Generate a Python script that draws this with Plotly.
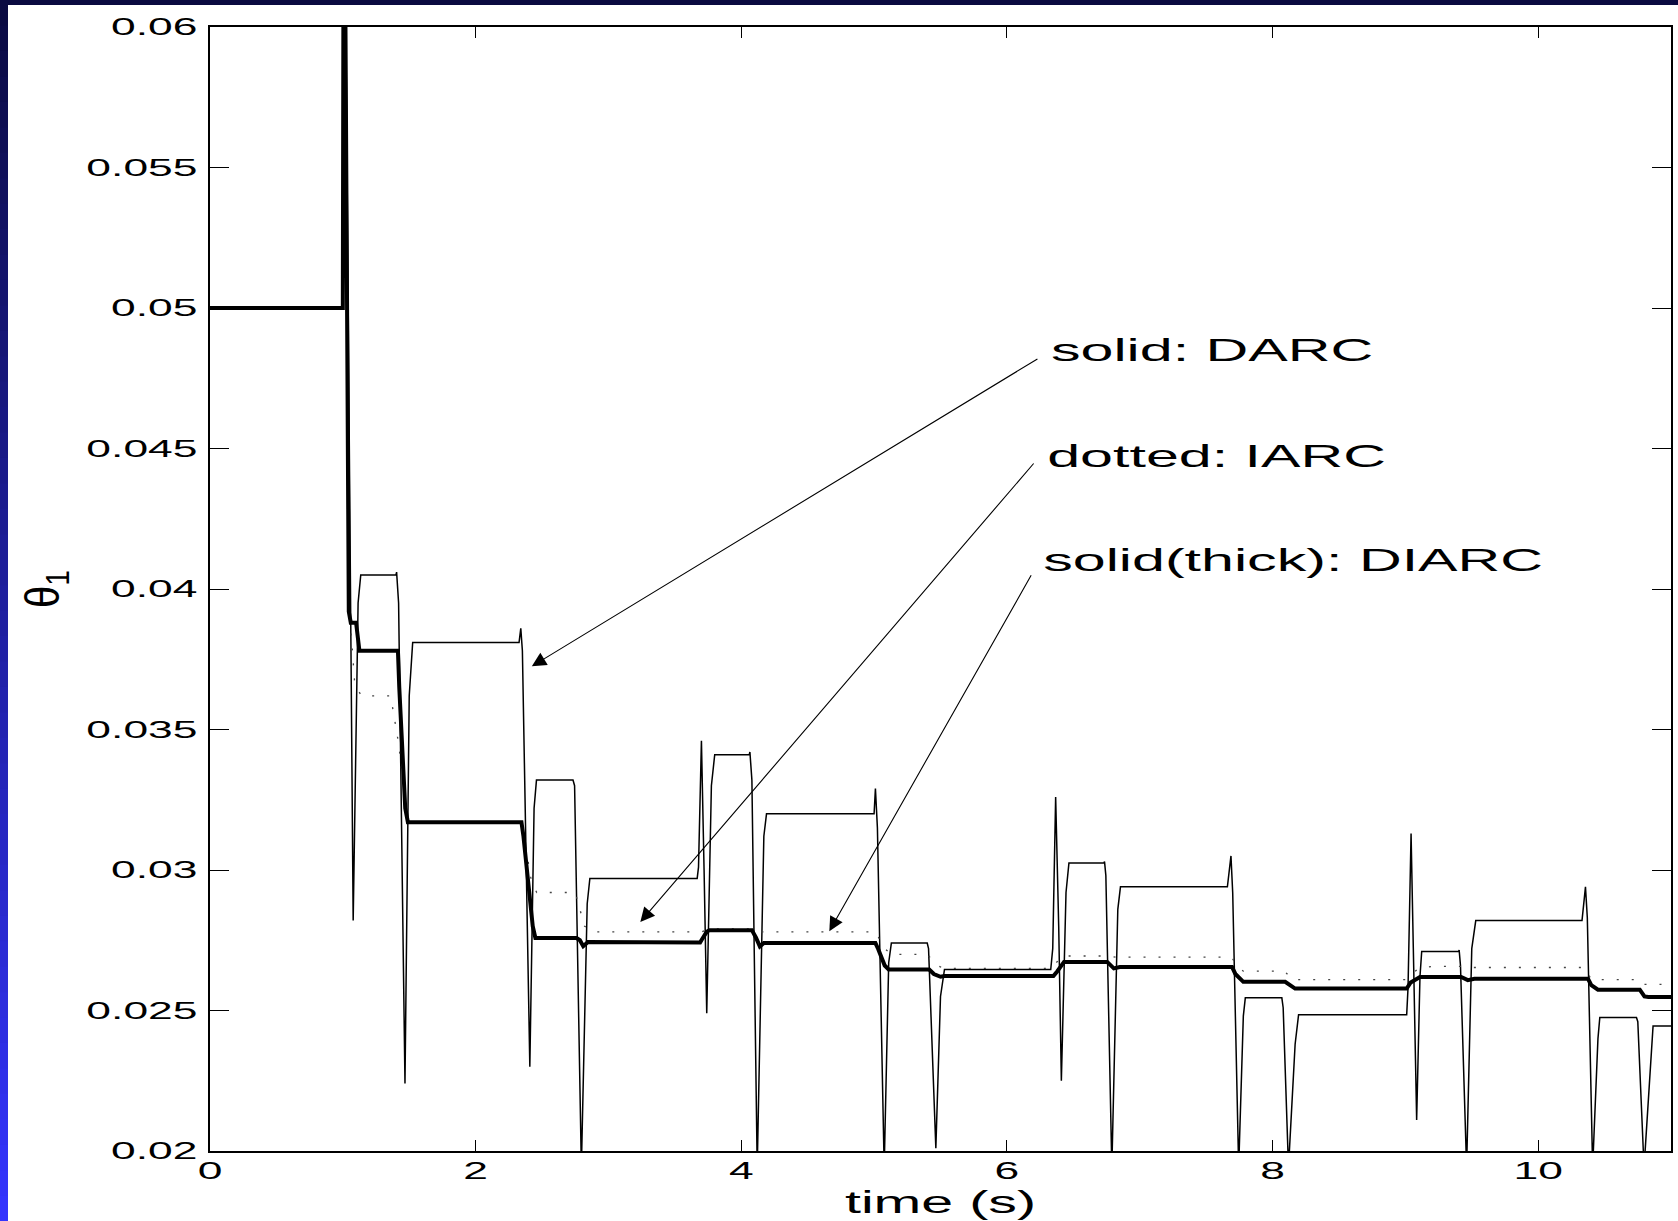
import plotly.graph_objects as go

# ---------------------------------------------------------------------------
# Parameter estimate theta_1 versus time for three adaptive controllers.
# Each series is a list of (time [s], estimate) breakpoints.
# ---------------------------------------------------------------------------

# DARC: thin solid line
darc = [
    (0.0, 0.05), (1.0, 0.05), (1.006, 0.07), (1.04, 0.05), (1.078, 0.0282),
    (1.115, 0.0395), (1.135, 0.0405), (1.40, 0.0405), (1.405, 0.0406),
    (1.42, 0.0395), (1.468, 0.0224), (1.50, 0.0362), (1.526, 0.0381),
    (2.327, 0.0381), (2.34, 0.0386), (2.352, 0.0378), (2.408, 0.0230),
    (2.44, 0.0322), (2.458, 0.0332), (2.733, 0.0332), (2.745, 0.0330),
    (2.796, 0.0194), (2.84, 0.0288), (2.86, 0.0297), (3.668, 0.0297),
    (3.678, 0.0301), (3.70, 0.0346), (3.72, 0.0300), (3.74, 0.0249),
    (3.775, 0.0330), (3.80, 0.0341), (4.06, 0.0341), (4.065, 0.0342),
    (4.08, 0.0332), (4.12, 0.0194), (4.17, 0.0312), (4.19, 0.0320),
    (5.00, 0.0320), (5.01, 0.0329), (5.025, 0.0315), (5.076, 0.0194),
    (5.11, 0.0267), (5.13, 0.0274), (5.40, 0.0274), (5.41, 0.0272),
    (5.465, 0.0201), (5.50, 0.0255), (5.53, 0.02646), (6.33, 0.02646),
    (6.345, 0.0272), (6.367, 0.0326), (6.39, 0.0280), (6.41, 0.0225),
    (6.445, 0.0292), (6.467, 0.03025), (6.73, 0.03025), (6.735, 0.0303),
    (6.745, 0.0298), (6.79, 0.0194), (6.835, 0.0286), (6.855, 0.0294),
    (7.66, 0.0294), (7.67, 0.0298), (7.687, 0.0305), (7.70, 0.0292),
    (7.745, 0.0194), (7.78, 0.0248), (7.795, 0.02545), (8.07, 0.02545),
    (8.08, 0.0251), (8.12, 0.0194), (8.17, 0.0238), (8.196, 0.02485),
    (9.01, 0.02485), (9.02, 0.0258), (9.043, 0.0313), (9.06, 0.0272),
    (9.085, 0.0211), (9.11, 0.0262), (9.123, 0.0271), (9.40, 0.0271),
    (9.405, 0.02715), (9.415, 0.0266), (9.461, 0.0194), (9.50, 0.0272),
    (9.53, 0.0282), (10.33, 0.0282), (10.34, 0.0286), (10.356, 0.0294),
    (10.37, 0.0283), (10.41, 0.0194), (10.45, 0.0240), (10.464, 0.02475),
    (10.74, 0.02475), (10.75, 0.0246), (10.797, 0.0194), (10.85, 0.0236),
    (10.865, 0.02445), (11.0, 0.02445),
]

# IARC: dotted line
iarc = [
    (0.0, 0.05), (1.0, 0.05), (1.008, 0.068), (1.04, 0.0400), (1.09, 0.0366),
    (1.14, 0.0362), (1.36, 0.0362), (1.42, 0.0345), (1.49, 0.0317),
    (2.345, 0.0317), (2.42, 0.0296), (2.46, 0.0292), (2.75, 0.0292),
    (2.82, 0.0280), (2.88, 0.0278), (3.70, 0.0278), (3.76, 0.0279),
    (4.08, 0.0279), (4.15, 0.0278), (5.01, 0.0278), (5.08, 0.0272),
    (5.13, 0.0270), (5.40, 0.0270), (5.48, 0.0266), (5.52, 0.0265),
    (6.33, 0.0265), (6.42, 0.02694), (6.76, 0.02694), (6.82, 0.0269),
    (7.69, 0.0269), (7.75, 0.0265), (7.78, 0.0264), (8.09, 0.0264),
    (8.15, 0.0261), (9.0, 0.0261), (9.1, 0.0265), (9.2, 0.02657),
    (9.42, 0.02657), (9.5, 0.02653), (10.35, 0.02653), (10.4, 0.0261),
    (10.77, 0.0261), (10.8, 0.02593), (11.0, 0.02593),
]

# DIARC: thick solid line
diarc = [
    (0.0, 0.05), (1.0, 0.05), (1.008, 0.07), (1.045, 0.0392), (1.06, 0.0388),
    (1.10, 0.0388), (1.125, 0.0378), (1.415, 0.0378), (1.425, 0.0365),
    (1.47, 0.0322), (1.49, 0.0317), (2.345, 0.0317), (2.36, 0.0312),
    (2.43, 0.0280), (2.45, 0.02758), (2.76, 0.02758), (2.785, 0.0275),
    (2.81, 0.02729), (2.846, 0.02744), (3.69, 0.02742), (3.70, 0.0275),
    (3.74, 0.0278), (3.76, 0.02786), (4.08, 0.02786), (4.11, 0.0276),
    (4.14, 0.02728), (4.17, 0.0274), (5.01, 0.0274), (5.03, 0.0272),
    (5.08, 0.0266), (5.11, 0.02646), (5.415, 0.02646), (5.45, 0.0263),
    (5.50, 0.0262), (5.53, 0.02623), (6.35, 0.02623), (6.38, 0.0264),
    (6.43, 0.02673), (6.755, 0.02673), (6.78, 0.0266), (6.805, 0.0265),
    (6.85, 0.02655), (7.695, 0.02655), (7.72, 0.0263), (7.78, 0.02602),
    (8.095, 0.02602), (8.13, 0.0259), (8.17, 0.02578), (9.01, 0.02578),
    (9.04, 0.0260), (9.11, 0.02619), (9.42, 0.02619), (9.47, 0.02608),
    (9.52, 0.02613), (10.375, 0.02613), (10.40, 0.0259), (10.45, 0.02574),
    (10.765, 0.02574), (10.80, 0.0255), (10.83, 0.02548), (11.0, 0.02548),
]

x_tick_vals = [0, 2, 4, 6, 8, 10]
x_tick_text = ["0", "2", "4", "6", "8", "10"]
y_tick_vals = [0.02, 0.025, 0.03, 0.035, 0.04, 0.045, 0.05, 0.055, 0.06]
y_tick_text = ["0.02", "0.025", "0.03", "0.035", "0.04", "0.045", "0.05", "0.055", "0.06"]

# label text, label centre (t, value), arrow tip (t, value), arrow tail (t, value)
callouts = [
    ("solid: DARC", (7.542, 0.0485), (2.423, 0.03725), (6.241, 0.04822)),
    ("dotted: IARC", (7.576, 0.04473), (3.240, 0.02815), (6.211, 0.04452)),
    ("solid(thick): DIARC", (8.155, 0.04103), (4.663, 0.02782), (6.189, 0.04054)),
]

FONT = "Liberation Sans, Arial, Helvetica, sans-serif"


def unzip(pairs):
    return [p[0] for p in pairs], [p[1] for p in pairs]


fig = go.Figure()

t, v = unzip(darc)
fig.add_trace(go.Scatter(x=t, y=v, mode="lines", name="DARC",
                         line=dict(color="black", width=1.5)))
t, v = unzip(iarc)
fig.add_trace(go.Scatter(x=t, y=v, mode="lines", name="IARC",
                         line=dict(color="#444444", width=1.3, dash="2px,13px")))
t, v = unzip(diarc)
fig.add_trace(go.Scatter(x=t, y=v, mode="lines", name="DIARC",
                         line=dict(color="black", width=4)))

annotations = []
for label, (lx, ly), (hx, hy), (tx, ty) in callouts:
    annotations.append(dict(
        x=hx, y=hy, ax=tx, ay=ty, xref="x", yref="y", axref="x", ayref="y",
        text="", showarrow=True, arrowhead=2, arrowsize=2.6, arrowwidth=1.1,
        arrowcolor="black", standoff=0,
    ))
    annotations.append(dict(
        x=lx, y=ly, xref="x", yref="y", text=label, showarrow=False,
        xanchor="center", yanchor="middle",
        font=dict(family=FONT, size=32, color="black"),
    ))

# dark frame: a flat top band and a vertical blue gradient down the left edge
W, H = 1678, 1221
ML, MR, MT, MB = 210, 5, 27, 70
shapes = [dict(
    type="rect", xref="paper", x0=-0.3, x1=1.1,
    yref="paper", ysizemode="pixel", yanchor=1, y0=MT - 5, y1=MT + 5,
    fillcolor="rgb(10,10,64)", line=dict(width=0), layer="below",
)]
n_bands = 48
top_rgb = (10, 10, 64)
bottom_rgb = (52, 52, 255)
band_h = H / n_bands
plot_bottom_px = H - MB
for i in range(n_bands):
    f = (i + 0.5) / n_bands
    rgb = tuple(round(a + (b - a) * f) for a, b in zip(top_rgb, bottom_rgb))
    py_top = i * band_h
    py_bot = (i + 1) * band_h + 1
    shapes.append(dict(
        type="rect", xref="paper", xsizemode="pixel", xanchor=0,
        x0=-ML - 5, x1=-ML + 8,
        yref="paper", ysizemode="pixel", yanchor=0,
        y0=plot_bottom_px - py_bot, y1=plot_bottom_px - py_top,
        fillcolor="rgb(%d,%d,%d)" % rgb, line=dict(width=0), layer="below",
    ))

axis_common = dict(
    showgrid=False, zeroline=False, showline=True, linecolor="black",
    linewidth=1.5, mirror="ticks", ticks="inside", tickcolor="black",
    tickwidth=1.2, tickfont=dict(family=FONT, size=24, color="black"),
)

fig.update_layout(
    width=W, height=H,
    margin=dict(l=ML, r=MR, t=MT, b=MB, pad=0),
    paper_bgcolor="white", plot_bgcolor="white",
    showlegend=False,
    xaxis=dict(range=[0, 11], tickmode="array", tickvals=x_tick_vals,
               ticktext=x_tick_text, ticklen=11, ticklabelstandoff=-3,
               title=dict(text="time (s)", standoff=9,
                          font=dict(family=FONT, size=31, color="black")),
               **axis_common),
    yaxis=dict(range=[0.02, 0.06], tickmode="array", tickvals=y_tick_vals,
               ticktext=y_tick_text, ticklen=19, ticklabelstandoff=6,
               title=dict(text="θ<sub>1</sub>", standoff=65,
                          font=dict(family=FONT, size=40, color="black")),
               **axis_common),
    annotations=annotations,
    shapes=shapes,
)

# Helvetica-style lettering is drawn horizontally widened, as in the
# original figure export: scale each label about its anchor point.
# The rotated y title is widened across its baseline instead.
WIDEN_JS = """
var gd = document.getElementById('{plot_id}');
var WIDEN = 1.85;
var WIDEN_YTITLE = 1.2;
function widenText() {
  var sel = '.xtick text, .ytick text, .annotation-text, .g-xtitle text';
  gd.querySelectorAll(sel).forEach(function (el) {
    var tr = el.getAttribute('transform') || '';
    if (tr.indexOf('scale(') >= 0) return;
    var x = parseFloat(el.getAttribute('x')) || 0;
    el.setAttribute('transform', tr + ' translate(' + x + ',0) scale(' + WIDEN +
                    ',1) translate(' + (-x) + ',0)');
  });
  gd.querySelectorAll('.g-ytitle text').forEach(function (el) {
    var tr = el.getAttribute('transform') || '';
    if (tr.indexOf('scale(') >= 0) return;
    var y = parseFloat(el.getAttribute('y')) || 0;
    el.setAttribute('transform', tr + ' translate(0,' + y + ') scale(1,' +
                    WIDEN_YTITLE + ') translate(0,' + (-y) + ')');
  });
}
widenText();
gd.on('plotly_afterplot', widenText);
"""

fig.write_html("out.html", post_script=WIDEN_JS)
